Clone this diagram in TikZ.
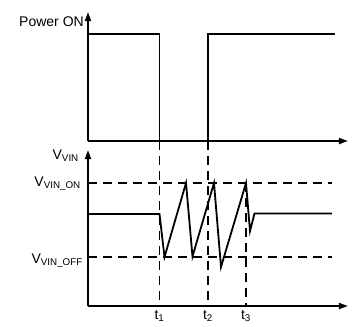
\documentclass[tikz,border=0pt]{standalone}
\usepackage{fontspec}
\setmainfont{Liberation Sans}
\usetikzlibrary{arrows.meta}

\begin{document}
\begin{tikzpicture}[x=1pt,y=-1pt,
    axis/.style={line width=1.8pt,-{Triangle[length=9pt,width=6pt]}},
    wave/.style={line width=1.8pt},
    level/.style={line width=1.5pt,dash pattern=on 9pt off 6pt},
    lbl/.style={font=\fontsize{14}{16}\selectfont,inner sep=0pt}]
    \useasboundingbox (0,0) rectangle (360,327);

    % Origins
    \coordinate (O1) at (88,141);
    \coordinate (O2) at (88,306);

    % Power ON axes
    \draw[axis] (O1) -- (88,12);
    \draw[axis] (O1) -- (348,141);
    \node[lbl,anchor=base east] (pwr) at (84,26.3) {Power ON};

    % V_VIN axes
    \draw[axis] (O2) -- (88,150);
    \draw[axis] (O2) -- (348,306);
    \node[lbl,anchor=base east] (vvin) at (79,159.3) {V\textsubscript{VIN}};

    % Threshold levels
    \draw[level] (88,183) -- (332,183);
    \draw[level] (88,257) -- (332,257);
    \node[lbl,anchor=base east] (von) at (81,186.7) {V\textsubscript{VIN\_ON}};
    \node[lbl,anchor=base east] (voff) at (83,263.3) {V\textsubscript{VIN\_OFF}};

    % Time markers
    \foreach \x/\i/\y in {159.5/1/141, 208/2/141, 246/3/183} {
        \draw[level] (\x,\y) -- (\x,306);
        \node[lbl,anchor=base] (t\i) at (\x,319.5) {t\textsubscript{\i}};
    }

    % Power ON signal
    \draw[wave] (88,34) -- (159.5,34) -- (159.5,141);
    \draw[wave] (208,141) -- (208,34) -- (335,34);

    % V_VIN signal
    \draw[wave]
        (88,214) -- (159.5,214) -- (164.5,257) -- (186,183) --
        (192.5,256.5) -- (214,183) -- (221,267) -- (246,183) --
        (250,231) -- (254.5,213.5) -- (332,213.5);
\end{tikzpicture}
\end{document}
